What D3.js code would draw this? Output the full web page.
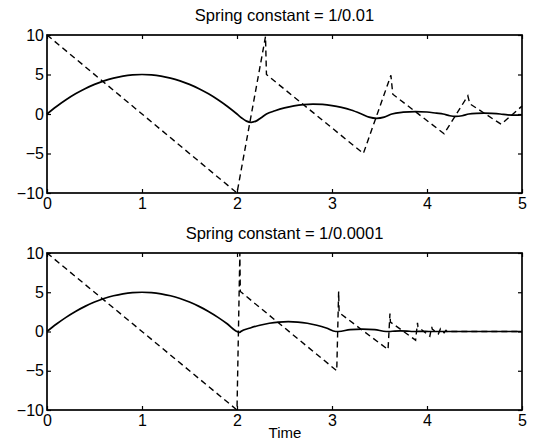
<!DOCTYPE html>
<html>
<head>
<meta charset="utf-8">
<script src="https://cdn.jsdelivr.net/npm/d3@7"></script>
<style>
  body { margin: 0; background: #fff; }
  svg { display: block; font-family: "Liberation Sans", Arial, Helvetica, sans-serif; }
  .tick text { font-size: 16px; fill: #000; }
</style>
</head>
<body>
<script>
'use strict';

// tick values shared by both panels
const xTicks = [0, 1, 2, 3, 4, 5];
const yTicks = [-10, -5, 0, 5, 10];
const titles = ["Spring constant = 1/0.01", "Spring constant = 1/0.0001"];

// panel 1 : solid line (position)
const topPosT = [0, 0.1, 0.2, 0.3, 0.4, 0.5, 0.6, 0.7, 0.8, 0.9, 1.0, 1.1, 1.2, 1.3, 1.4, 1.5, 1.6, 1.7, 1.8, 1.9, 2.0,
  2.05, 2.1, 2.15, 2.2, 2.25, 2.31, 2.4, 2.5, 2.6, 2.7, 2.8, 2.9, 3.0, 3.1, 3.2, 3.31,
  3.39, 3.47, 3.55, 3.63, 3.75, 3.88, 4.0, 4.1, 4.17, 4.24, 4.3, 4.37, 4.44, 4.52, 4.6, 4.68, 4.77, 4.85, 4.93, 5.0];
const topPosY = [0, 0.95, 1.8, 2.55, 3.2, 3.75, 4.2, 4.55, 4.8, 4.95, 5.0, 4.95, 4.8, 4.55, 4.2, 3.75, 3.2, 2.55, 1.8, 0.95, 0,
  -0.5, -0.9, -1.05, -0.9, -0.5, 0, 0.41, 0.77, 1.03, 1.19, 1.25, 1.21, 1.07, 0.83, 0.5, 0,
  -0.4, -0.55, -0.4, 0, 0.23, 0.31, 0.25, 0.1, 0, -0.22, -0.3, -0.22, 0, 0.08, 0.1, 0.07, 0, -0.12, -0.15, -0.1];

// panel 1 : dashed line (velocity)
const topVelT = [0, 2.0, 2.3, 2.31, 3.33, 3.62, 3.64, 4.18, 4.43, 4.45, 4.78, 5.0];
const topVelY = [10, -10, 9.8, 5, -5, 4.9, 2.5, -2.5, 2.3, 1.3, -1.3, 1.0];

// panel 2 : solid line (position)
const botPosT = [0, 0.1, 0.2, 0.3, 0.4, 0.5, 0.6, 0.7, 0.8, 0.9, 1.0, 1.1, 1.2, 1.3, 1.4, 1.5, 1.6, 1.7, 1.8, 1.9, 2.0,
  2.03, 2.04, 2.14, 2.24, 2.34, 2.44, 2.54, 2.64, 2.74, 2.84, 2.94, 3.04,
  3.07, 3.19, 3.32, 3.45, 3.57, 3.6, 3.66, 3.72, 3.79, 3.85, 3.88, 3.95, 4.02, 5.0];
const botPosY = [0, 0.95, 1.8, 2.55, 3.2, 3.75, 4.2, 4.55, 4.8, 4.95, 5.0, 4.95, 4.8, 4.55, 4.2, 3.75, 3.2, 2.55, 1.8, 0.95, 0,
  -0.1, 0, 0.45, 0.8, 1.05, 1.2, 1.25, 1.2, 1.05, 0.8, 0.45, 0,
  0, 0.24, 0.31, 0.24, 0, 0, 0.06, 0.08, 0.06, 0, 0, 0.02, 0, 0];

// panel 2 : dashed line (velocity)
const botVelT = [0, 2.0, 2.03, 2.035, 3.05, 3.07, 3.075, 3.59, 3.61, 3.615, 3.88, 3.9, 3.905, 4.03, 4.05, 4.055, 4.12, 4.14, 4.145, 4.18, 4.2, 4.21, 5.0];
const botVelY = [10, -10, 10, 5.1, -5, 5.1, 2.4, -2.3, 2.3, 1.2, -1.1, 1.1, 0.6, -0.6, 0.6, 0.3, -0.3, 0.3, 0.15, -0.15, 0.15, 0, 0];

const width = 536, height = 447;
const left = 47, right = 522;

const svg = d3.select('body').append('svg')
  .attr('width', width)
  .attr('height', height);

const x = d3.scaleLinear().domain([0, 5]).range([left, right]);

function zipPts(ts, ys) {
  return ts.map((t, i) => [t, ys[i]]);
}

function drawPanel(top, bottom, title, pos, vel) {
  const y = d3.scaleLinear().domain([-10, 10]).range([bottom, top]);
  const g = svg.append('g');

  const line = d3.line()
    .x(d => x(d[0]))
    .y(d => y(d[1]));

  // velocity, dashed
  g.append('path')
    .attr('d', line(vel))
    .attr('fill', 'none')
    .attr('stroke', '#000')
    .attr('stroke-width', 1.4)
    .attr('stroke-dasharray', '6,4');

  // position, solid
  g.append('path')
    .attr('d', line.curve(d3.curveMonotoneX)(pos))
    .attr('fill', 'none')
    .attr('stroke', '#000')
    .attr('stroke-width', 1.7);

  // axes with inward ticks on all four sides
  g.append('g')
    .attr('transform', `translate(0,${bottom})`)
    .call(d3.axisBottom(x).tickValues(xTicks).tickSize(-4).tickPadding(5).tickFormat(d3.format('d')));
  g.append('g')
    .attr('transform', `translate(0,${top})`)
    .call(d3.axisTop(x).tickValues(xTicks).tickSize(-4).tickFormat(''));
  g.append('g')
    .attr('transform', `translate(${left},0)`)
    .call(d3.axisLeft(y).tickValues(yTicks).tickSize(-4).tickPadding(3)
      .tickFormat(d => d < 0 ? '\u2212' + Math.abs(d) : d));
  g.append('g')
    .attr('transform', `translate(${right},0)`)
    .call(d3.axisRight(y).tickValues(yTicks).tickSize(-4).tickFormat(''));

  g.selectAll('.domain').remove();
  g.selectAll('.tick line').attr('stroke', '#000').attr('stroke-width', 1.2);

  g.append('rect')
    .attr('x', left)
    .attr('y', top)
    .attr('width', right - left)
    .attr('height', bottom - top)
    .attr('fill', 'none')
    .attr('stroke', '#000')
    .attr('stroke-width', 1.7);

  g.append('text')
    .attr('x', (left + right) / 2)
    .attr('y', top - 14)
    .attr('text-anchor', 'middle')
    .style('font-size', '16.5px')
    .text(title);
}

drawPanel(35, 193, titles[0], zipPts(topPosT, topPosY), zipPts(topVelT, topVelY));
drawPanel(253, 410, titles[1], zipPts(botPosT, botPosY), zipPts(botVelT, botVelY));

svg.append('text')
  .attr('x', 285)
  .attr('y', 438)
  .attr('text-anchor', 'middle')
  .style('font-size', '15px')
  .text('Time');
</script>
</body>
</html>
